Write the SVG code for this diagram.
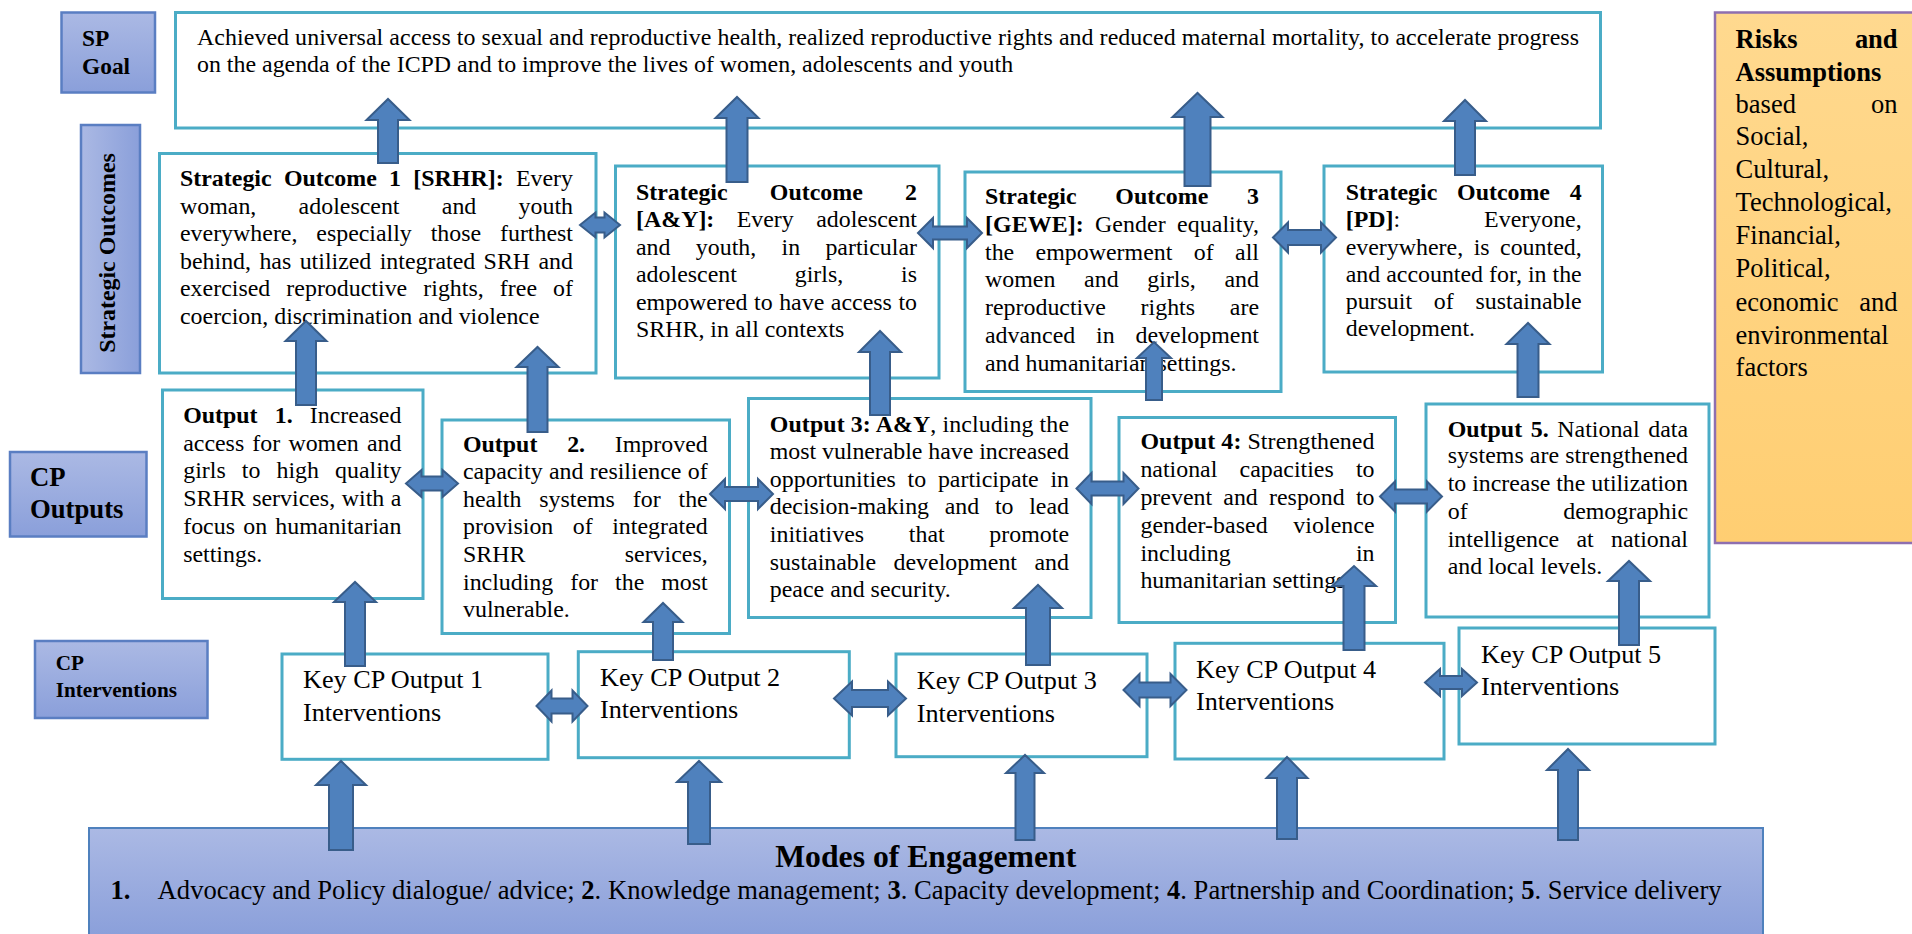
<svg xmlns="http://www.w3.org/2000/svg" width="1912" height="934" viewBox="0 0 1912 934">
<defs>
<linearGradient id="gV" x1="0" y1="0" x2="0" y2="1"><stop offset="0" stop-color="#ABB9E4"/><stop offset="1" stop-color="#8A9FDA"/></linearGradient>
<linearGradient id="gH" x1="0" y1="0" x2="1" y2="0"><stop offset="0" stop-color="#ABB9E4"/><stop offset="1" stop-color="#8A9FDA"/></linearGradient>
<linearGradient id="gO" x1="0" y1="0" x2="0" y2="1"><stop offset="0" stop-color="#FFD98F"/><stop offset="1" stop-color="#FFCE72"/></linearGradient>
<style>
.box{fill:#fff;stroke:#4BACC6;stroke-width:3}
.lbl{stroke:#5A7EC2;stroke-width:2.5}
.arr{fill:#4F81BD;stroke:#385D8A;stroke-width:2;stroke-linejoin:miter}
text{font-family:"Liberation Serif","Times New Roman",serif;font-size:23.9px;fill:#000}
.b{font-weight:bold}
.k{font-size:26.2px}
.r{font-size:26.5px}
</style>
</defs>
<rect width="1912" height="934" fill="#fff"/>

<g id="sp-goal-label">
<rect class="lbl" x="61.5" y="12.5" width="93.5" height="80" fill="url(#gV)"/>
<text class="b" x="82" y="45.5" style="font-size:23.4px">SP</text>
<text class="b" x="82" y="74.3" style="font-size:23.4px">Goal</text>
</g>

<g id="goal">
<rect class="box" x="175.5" y="12.5" width="1425" height="115.5"/>
<text x="197" y="45" textLength="1382" lengthAdjust="spacing">Achieved universal access to sexual and reproductive health, realized reproductive rights and reduced maternal mortality, to accelerate progress</text>
<text x="197" y="72">on the agenda of the ICPD and to improve the lives of women, adolescents and youth</text>
</g>

<g id="strategic-outcomes-label">
<rect class="lbl" x="81" y="125" width="59" height="248" fill="url(#gH)"/>
<text class="b" transform="translate(115,253) rotate(-90)" text-anchor="middle">Strategic Outcomes</text>
</g>

<g id="so1">
<rect class="box" x="159.5" y="153.5" width="436.5" height="219.5"/>
<text x="180" y="186" word-spacing="6.3" textLength="393" lengthAdjust="spacing"><tspan class="b">Strategic Outcome 1 [SRHR]:</tspan> Every</text>
<text x="180" y="213.5" word-spacing="36.3" textLength="393" lengthAdjust="spacing">woman, adolescent and youth</text>
<text x="180" y="241" word-spacing="12.9" textLength="393" lengthAdjust="spacing">everywhere, especially those furthest</text>
<text x="180" y="268.5" word-spacing="2.4" textLength="393" lengthAdjust="spacing">behind, has utilized integrated SRH and</text>
<text x="180" y="296" word-spacing="10.1" textLength="393" lengthAdjust="spacing">exercised reproductive rights, free of</text>
<text x="180" y="323.5">coercion, discrimination and violence</text>
</g>

<g id="so2">
<rect class="box" x="615.5" y="166" width="323.5" height="212"/>
<text x="636" y="199.5" word-spacing="36.3" textLength="281" lengthAdjust="spacing"><tspan class="b">Strategic Outcome 2</tspan></text>
<text x="636" y="227" word-spacing="16.4" textLength="281" lengthAdjust="spacing"><tspan class="b">[A&amp;Y]:</tspan> Every adolescent</text>
<text x="636" y="254.5" word-spacing="19.3" textLength="281" lengthAdjust="spacing">and youth, in particular</text>
<text x="636" y="282" word-spacing="51.9" textLength="281" lengthAdjust="spacing">adolescent girls, is</text>
<text x="636" y="309.5" word-spacing="0.6" textLength="281" lengthAdjust="spacing">empowered to have access to</text>
<text x="636" y="337">SRHR, in all contexts</text>
</g>

<g id="so3">
<rect class="box" x="965" y="172" width="316" height="219.5"/>
<text x="985" y="204" word-spacing="32.8" textLength="274" lengthAdjust="spacing"><tspan class="b">Strategic Outcome 3</tspan></text>
<text x="985" y="232" word-spacing="5.2" textLength="274" lengthAdjust="spacing"><tspan class="b">[GEWE]:</tspan> Gender equality,</text>
<text x="985" y="259.5" word-spacing="15.4" textLength="274" lengthAdjust="spacing">the empowerment of all</text>
<text x="985" y="287" word-spacing="22.7" textLength="274" lengthAdjust="spacing">women and girls, and</text>
<text x="985" y="315" word-spacing="28.8" textLength="274" lengthAdjust="spacing">reproductive rights are</text>
<text x="985" y="343" word-spacing="14.9" textLength="274" lengthAdjust="spacing">advanced in development</text>
<text x="985" y="370.5">and humanitarian settings.</text>
</g>

<g id="so4">
<rect class="box" x="1324" y="166" width="278.5" height="206"/>
<text x="1345.7" y="200" word-spacing="13.8" textLength="236" lengthAdjust="spacing"><tspan class="b">Strategic Outcome 4</tspan></text>
<text x="1345.7" y="227" word-spacing="78" textLength="236" lengthAdjust="spacing"><tspan class="b">[PD]</tspan>: Everyone,</text>
<text x="1345.7" y="254.5" word-spacing="4.5" textLength="236" lengthAdjust="spacing">everywhere, is counted,</text>
<text x="1345.7" y="282" textLength="236" lengthAdjust="spacing">and accounted for, in the</text>
<text x="1345.7" y="309" word-spacing="15.8" textLength="236" lengthAdjust="spacing">pursuit of sustainable</text>
<text x="1345.7" y="336">development.</text>
</g>

<g id="risks">
<rect x="1715" y="12.5" width="200" height="530.5" fill="url(#gO)" stroke="#8E6FB0" stroke-width="2.5"/>
<text class="r b" x="1735.6" y="48" word-spacing="50.8" textLength="162" lengthAdjust="spacing">Risks and</text>
<text class="r b" x="1735.6" y="81">Assumptions</text>
<text class="r" x="1735.6" y="112.5" word-spacing="68.5" textLength="162" lengthAdjust="spacing">based on</text>
<text class="r" x="1735.6" y="145">Social,</text>
<text class="r" x="1735.6" y="177.5">Cultural,</text>
<text class="r" x="1735.6" y="211">Technological,</text>
<text class="r" x="1735.6" y="243.5">Financial,</text>
<text class="r" x="1735.6" y="277">Political,</text>
<text class="r" x="1735.6" y="311" word-spacing="14.1" textLength="162" lengthAdjust="spacing">economic and</text>
<text class="r" x="1735.6" y="343.5">environmental</text>
<text class="r" x="1735.6" y="376">factors</text>
</g>

<g id="cp-outputs-label">
<rect class="lbl" x="10" y="452" width="136.5" height="84.5" fill="url(#gV)"/>
<text class="b" x="30" y="486" style="font-size:26.7px">CP</text>
<text class="b" x="30" y="518.3" style="font-size:26.7px">Outputs</text>
</g>

<g id="output1">
<rect class="box" x="162.5" y="390" width="260.5" height="208.5"/>
<text x="183.2" y="423.3" word-spacing="11.2" textLength="218.2" lengthAdjust="spacing"><tspan class="b">Output 1.</tspan> Increased</text>
<text x="183.2" y="450.7" word-spacing="2.2" textLength="218.2" lengthAdjust="spacing">access for women and</text>
<text x="183.2" y="478.3" word-spacing="10.1" textLength="218.2" lengthAdjust="spacing">girls to high quality</text>
<text x="183.2" y="506" word-spacing="0.6" textLength="218.2" lengthAdjust="spacing">SRHR services, with a</text>
<text x="183.2" y="534" word-spacing="2.2" textLength="218.2" lengthAdjust="spacing">focus on humanitarian</text>
<text x="183.2" y="561.7">settings.</text>
</g>

<g id="output2">
<rect class="box" x="442" y="420" width="287.5" height="213.5"/>
<text x="463" y="451.7" word-spacing="23.8" textLength="244.7" lengthAdjust="spacing"><tspan class="b">Output 2.</tspan> Improved</text>
<text x="463" y="479.3" word-spacing="0.4" textLength="244.7" lengthAdjust="spacing">capacity and resilience of</text>
<text x="463" y="506.7" word-spacing="11.9" textLength="244.7" lengthAdjust="spacing">health systems for the</text>
<text x="463" y="534.3" word-spacing="13.5" textLength="244.7" lengthAdjust="spacing">provision of integrated</text>
<text x="463" y="562.3" word-spacing="93.3" textLength="244.7" lengthAdjust="spacing">SRHR services,</text>
<text x="463" y="590" word-spacing="11" textLength="244.7" lengthAdjust="spacing">including for the most</text>
<text x="463" y="617.3">vulnerable.</text>
</g>

<g id="output3">
<rect class="box" x="748.5" y="398.5" width="342.5" height="219"/>
<text x="769.8" y="431.7" textLength="299.2" lengthAdjust="spacing"><tspan class="b">Output 3: A&amp;Y</tspan>, including the</text>
<text x="769.8" y="459" textLength="299.2" lengthAdjust="spacing">most vulnerable have increased</text>
<text x="769.8" y="486.7" word-spacing="5.7" textLength="299.2" lengthAdjust="spacing">opportunities to participate in</text>
<text x="769.8" y="514" word-spacing="9.7" textLength="299.2" lengthAdjust="spacing">decision-making and to lead</text>
<text x="769.8" y="542.3" word-spacing="38.7" textLength="299.2" lengthAdjust="spacing">initiatives that promote</text>
<text x="769.8" y="570" word-spacing="11.5" textLength="299.2" lengthAdjust="spacing">sustainable development and</text>
<text x="769.8" y="597.3">peace and security.</text>
</g>

<g id="output4">
<rect class="box" x="1119" y="417.5" width="276.5" height="205"/>
<text x="1140.4" y="449" textLength="234.1" lengthAdjust="spacing"><tspan class="b">Output 4:</tspan> Strengthened</text>
<text x="1140.4" y="477.3" word-spacing="16.2" textLength="234.1" lengthAdjust="spacing">national capacities to</text>
<text x="1140.4" y="505" word-spacing="5.2" textLength="234.1" lengthAdjust="spacing">prevent and respond to</text>
<text x="1140.4" y="532.7" word-spacing="19.7" textLength="234.1" lengthAdjust="spacing">gender-based violence</text>
<text x="1140.4" y="560.7" word-spacing="119.2" textLength="234.1" lengthAdjust="spacing">including in</text>
<text x="1140.4" y="588.3">humanitarian settings.</text>
</g>

<g id="output5">
<rect class="box" x="1426" y="404" width="283" height="213"/>
<text x="1447.7" y="436.7" word-spacing="2.6" textLength="240.3" lengthAdjust="spacing"><tspan class="b">Output 5.</tspan> National data</text>
<text x="1447.7" y="463" textLength="240.3" lengthAdjust="spacing">systems are strengthened</text>
<text x="1447.7" y="491" textLength="240.3" lengthAdjust="spacing">to increase the utilization</text>
<text x="1447.7" y="519" word-spacing="89.6" textLength="240.3" lengthAdjust="spacing">of demographic</text>
<text x="1447.7" y="546.7" word-spacing="11.3" textLength="240.3" lengthAdjust="spacing">intelligence at national</text>
<text x="1447.7" y="574">and local levels.</text>
</g>

<g id="cp-interventions-label">
<rect class="lbl" x="35" y="641" width="172.5" height="77" fill="url(#gV)"/>
<text class="b" x="55.7" y="670" style="font-size:21.2px">CP</text>
<text class="b" x="55.7" y="696.7" style="font-size:21.2px">Interventions</text>
</g>

<g id="key1">
<rect class="box" x="282" y="654" width="266" height="105.3"/>
<text class="k" x="303" y="688.3">Key CP Output 1</text>
<text class="k" x="303" y="720.7">Interventions</text>
</g>
<g id="key2">
<rect class="box" x="578.3" y="651.7" width="271" height="106"/>
<text class="k" x="600" y="686">Key CP Output 2</text>
<text class="k" x="600" y="718.3">Interventions</text>
</g>
<g id="key3">
<rect class="box" x="896" y="654" width="251" height="102.7"/>
<text class="k" x="916.8" y="689.3">Key CP Output 3</text>
<text class="k" x="916.8" y="721.7">Interventions</text>
</g>
<g id="key4">
<rect class="box" x="1175" y="643.3" width="269" height="115.7"/>
<text class="k" x="1196" y="678.3">Key CP Output 4</text>
<text class="k" x="1196" y="710">Interventions</text>
</g>
<g id="key5">
<rect class="box" x="1459" y="628" width="256" height="116"/>
<text class="k" x="1481" y="662.7">Key CP Output 5</text>
<text class="k" x="1481" y="695">Interventions</text>
</g>

<g id="modes">
<rect x="89" y="828" width="1674" height="110" fill="url(#gV)" stroke="#4F81BD" stroke-width="2"/>
<text class="b" x="925.7" y="866.7" text-anchor="middle" style="font-size:31.7px">Modes of Engagement</text>
<text class="b" x="110.5" y="899.3" style="font-size:26.6px">1.</text>
<text x="157.6" y="899.3" style="font-size:26.6px" textLength="1564" lengthAdjust="spacing">Advocacy and Policy dialogue/ advice; <tspan class="b">2</tspan>. Knowledge management; <tspan class="b">3</tspan>. Capacity development; <tspan class="b">4</tspan>. Partnership and Coordination; <tspan class="b">5</tspan>. Service delivery</text>
</g>

<g id="connectors">
<path class="arr" d="M378,163 L378,120 L366.5,120 L388,99 L409.5,120 L398,120 L398,163 Z"/>
<path class="arr" d="M726.5,182 L726.5,118 L715.5,118 L737,97 L758.5,118 L747.5,118 L747.5,182 Z"/>
<path class="arr" d="M1184.5,186 L1184.5,117 L1172.5,117 L1197.5,93 L1222.5,117 L1210.5,117 L1210.5,186 Z"/>
<path class="arr" d="M1455,175 L1455,121 L1444,121 L1465,100 L1486,121 L1475,121 L1475,175 Z"/>
<path class="arr" d="M296,405 L296,341 L285.5,341 L306,321 L326.5,341 L316,341 L316,405 Z"/>
<path class="arr" d="M527.5,432 L527.5,367 L516.5,367 L537.5,347 L558.5,367 L547.5,367 L547.5,432 Z"/>
<path class="arr" d="M870,415 L870,352 L859,352 L880,331 L901,352 L890,352 L890,415 Z"/>
<path class="arr" d="M1146,400 L1146,358 L1137,358 L1154,342 L1171,358 L1162,358 L1162,400 Z"/>
<path class="arr" d="M1517.5,397 L1517.5,344 L1506.5,344 L1528,323 L1549.5,344 L1538.5,344 L1538.5,397 Z"/>
<path class="arr" d="M345,666 L345,602 L334,602 L355,582 L376,602 L365,602 L365,666 Z"/>
<path class="arr" d="M653,660 L653,622 L643.5,622 L663,603 L682.5,622 L673,622 L673,660 Z"/>
<path class="arr" d="M1026,665 L1026,608 L1014,608 L1038,585 L1062,608 L1050,608 L1050,665 Z"/>
<path class="arr" d="M1343.5,650 L1343.5,586 L1332,586 L1354,566 L1376,586 L1364.5,586 L1364.5,650 Z"/>
<path class="arr" d="M1619,645 L1619,581 L1608,581 L1629,561 L1650,581 L1639,581 L1639,645 Z"/>
<path class="arr" d="M329,850 L329,785 L316,785 L341,761 L366,785 L353,785 L353,850 Z"/>
<path class="arr" d="M688,844 L688,782 L677,782 L699,761 L721,782 L710,782 L710,844 Z"/>
<path class="arr" d="M1015.5,840 L1015.5,773 L1006,773 L1025,755 L1044,773 L1034.5,773 L1034.5,840 Z"/>
<path class="arr" d="M1277,839 L1277,778 L1266.5,778 L1287,757 L1307.5,778 L1297,778 L1297,839 Z"/>
<path class="arr" d="M1558,840 L1558,770 L1547,770 L1568,749 L1589,770 L1578,770 L1578,840 Z"/>
<path class="arr" d="M580,225 L595.5,212.5 L595.5,217.5 L604.5,217.5 L604.5,212.5 L620,225 L604.5,237.5 L604.5,232.5 L595.5,232.5 L595.5,237.5 Z"/>
<path class="arr" d="M918,233 L933,218 L933,226.5 L967,226.5 L967,218 L982,233 L967,248 L967,239.5 L933,239.5 L933,248 Z"/>
<path class="arr" d="M1273,237.5 L1288,222.5 L1288,230 L1321,230 L1321,222.5 L1336,237.5 L1321,252.5 L1321,245 L1288,245 L1288,252.5 Z"/>
<path class="arr" d="M406,483.5 L421.5,470 L421.5,476.5 L442.5,476.5 L442.5,470 L458,483.5 L442.5,497 L442.5,490.5 L421.5,490.5 L421.5,497 Z"/>
<path class="arr" d="M710,494 L725,479 L725,487 L758,487 L758,479 L773,494 L758,509 L758,501 L725,501 L725,509 Z"/>
<path class="arr" d="M1076.5,488.5 L1091.5,473 L1091.5,481.5 L1123.5,481.5 L1123.5,473 L1138.5,488.5 L1123.5,504 L1123.5,495.5 L1091.5,495.5 L1091.5,504 Z"/>
<path class="arr" d="M1380,496.5 L1395,481.5 L1395,489.5 L1427,489.5 L1427,481.5 L1442,496.5 L1427,511.5 L1427,503.5 L1395,503.5 L1395,511.5 Z"/>
<path class="arr" d="M536.5,706 L551.5,690.5 L551.5,698.5 L572.5,698.5 L572.5,690.5 L587.5,706 L572.5,721.5 L572.5,713.5 L551.5,713.5 L551.5,721.5 Z"/>
<path class="arr" d="M834,698.5 L852,681.5 L852,690 L888,690 L888,681.5 L906,698.5 L888,715.5 L888,707 L852,707 L852,715.5 Z"/>
<path class="arr" d="M1123.5,690 L1139.5,674 L1139.5,682.5 L1170.5,682.5 L1170.5,674 L1186.5,690 L1170.5,706 L1170.5,697.5 L1139.5,697.5 L1139.5,706 Z"/>
<path class="arr" d="M1425,682.5 L1440,669 L1440,676 L1462,676 L1462,669 L1477,682.5 L1462,696 L1462,689 L1440,689 L1440,696 Z"/>
</g>
</svg>
